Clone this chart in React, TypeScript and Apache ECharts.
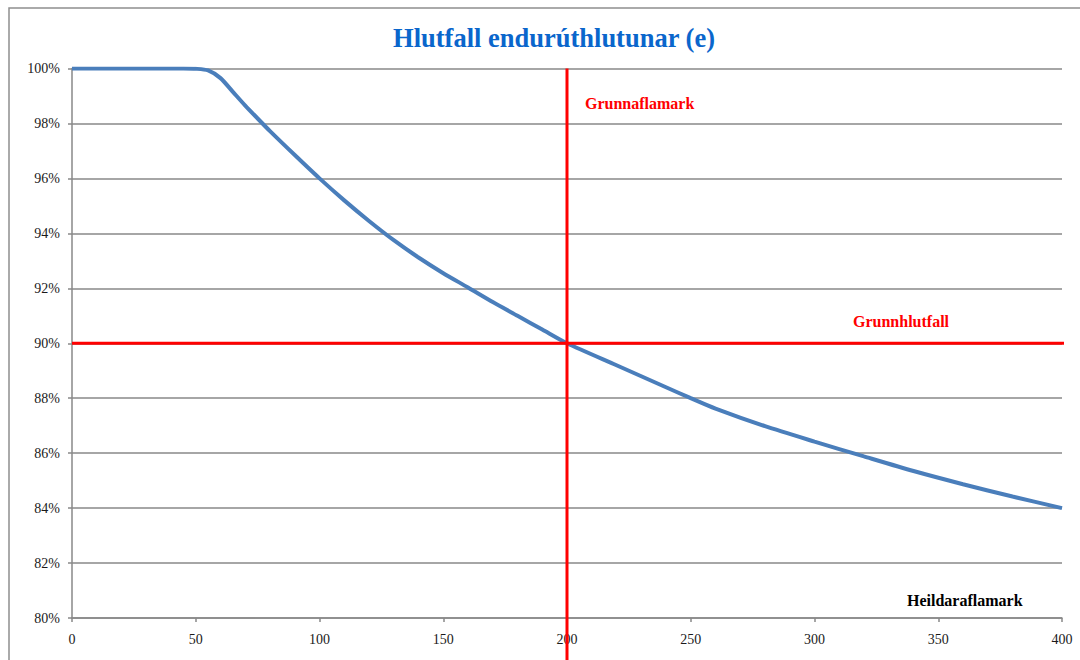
import React, { useEffect, useRef } from "react";
import * as echarts from "echarts";

const xValues = [0, 10, 20, 30, 40, 45, 50, 55, 60, 65, 70, 75, 80, 90, 100, 110, 120, 130, 140, 150, 160, 170, 180, 190, 200, 220, 240, 250, 260, 280, 300, 320, 340, 360, 380, 400];
const ratioValues = [100, 100, 100, 100, 100, 100, 99.99, 99.93, 99.65, 99.15, 98.65, 98.18, 97.72, 96.85, 96.0, 95.2, 94.45, 93.75, 93.12, 92.55, 92.03, 91.5, 91.0, 90.5, 90.0, 89.2, 88.4, 88.0, 87.62, 86.98, 86.42, 85.88, 85.35, 84.87, 84.42, 84.0];

const thresholdX = 200; // Grunnaflamark
const baseRatio = 90; // Grunnhlutfall
const verticalLineY = [100, 77];
const horizontalLineX = [0, 401.5];

const yTicks = { min: 80, max: 100, interval: 2 };
const xTicks = { min: 0, max: 400, interval: 50 };

const title = "Hlutfall endurúthlutunar (e)";
const labelVertical = "Grunnaflamark";
const labelHorizontal = "Grunnhlutfall";
const labelAxis = "Heildaraflamark";

const FONT = "'Liberation Serif', 'Times New Roman', serif";

export default function App() {
  const ref = useRef<HTMLDivElement>(null);
  useEffect(() => {
    if (!ref.current) return;
    const chart = echarts.init(ref.current, undefined, { renderer: "svg" });
    const curve = xValues.map((x, i) => [x, ratioValues[i]]);
    chart.setOption({
      animation: false,
      backgroundColor: "#ffffff",
      textStyle: { fontFamily: FONT },
      title: {
        text: title,
        left: 549,
        top: 19,
        textAlign: "center",
        textStyle: { color: "#0a66cc", fontSize: 26.5, fontWeight: "bold", fontFamily: FONT },
      },
      grid: { left: 72, right: 18, top: 68.5, bottom: 42, containLabel: false },
      xAxis: {
        type: "value",
        min: xTicks.min,
        max: xTicks.max,
        interval: xTicks.interval,
        axisLine: { show: true, lineStyle: { color: "#888", width: 1.5 } },
        axisTick: { show: true, length: 4, lineStyle: { color: "#888", width: 1.5 } },
        axisLabel: { color: "#1a1a1a", fontSize: 14, fontFamily: FONT, margin: 14 },
        splitLine: { show: false },
      },
      yAxis: {
        type: "value",
        min: yTicks.min,
        max: yTicks.max,
        interval: yTicks.interval,
        axisLine: { show: true, lineStyle: { color: "#888", width: 1.5 } },
        axisTick: { show: true, length: 4, lineStyle: { color: "#888", width: 1.5 } },
        axisLabel: { color: "#1a1a1a", fontSize: 14, fontFamily: FONT, margin: 12, formatter: "{value}%" },
        splitLine: { show: true, lineStyle: { color: "#888", width: 1.5 } },
      },
      series: [
        {
          type: "line",
          data: curve,
          showSymbol: false,
          smooth: 0.25,
          lineStyle: { color: "#4a7ebb", width: 4 },
          z: 3,
        },
        {
          type: "line",
          data: horizontalLineX.map((x) => [x, baseRatio]),
          showSymbol: false,
          clip: false,
          lineStyle: { color: "#ff0000", width: 3 },
          z: 4,
        },
        {
          type: "line",
          data: verticalLineY.map((y) => [thresholdX, y]),
          showSymbol: false,
          clip: false,
          lineStyle: { color: "#ff0000", width: 3 },
          z: 4,
        },
      ],
      graphic: [
        {
          type: "rect",
          shape: { x: 9, y: 8, width: 1200, height: 800 },
          style: { fill: "none", stroke: "#8f8f8f", lineWidth: 1.5 },
          silent: true,
          z: -1,
        },
        {
          type: "text",
          x: 585,
          y: 103,
          style: { text: labelVertical, fill: "#ff0000", font: `bold 16px ${FONT}`, textVerticalAlign: "middle" },
        },
        {
          type: "text",
          x: 853,
          y: 321,
          style: { text: labelHorizontal, fill: "#ff0000", font: `bold 16px ${FONT}`, textVerticalAlign: "middle" },
        },
        {
          type: "text",
          x: 907,
          y: 600,
          style: { text: labelAxis, fill: "#000000", font: `bold 16px ${FONT}`, textVerticalAlign: "middle" },
        },
      ],
    });
    return () => chart.dispose();
  }, []);
  return <div ref={ref} style={{ position: "fixed", left: 0, top: 0, width: 1080, height: 660 }} />;
}
